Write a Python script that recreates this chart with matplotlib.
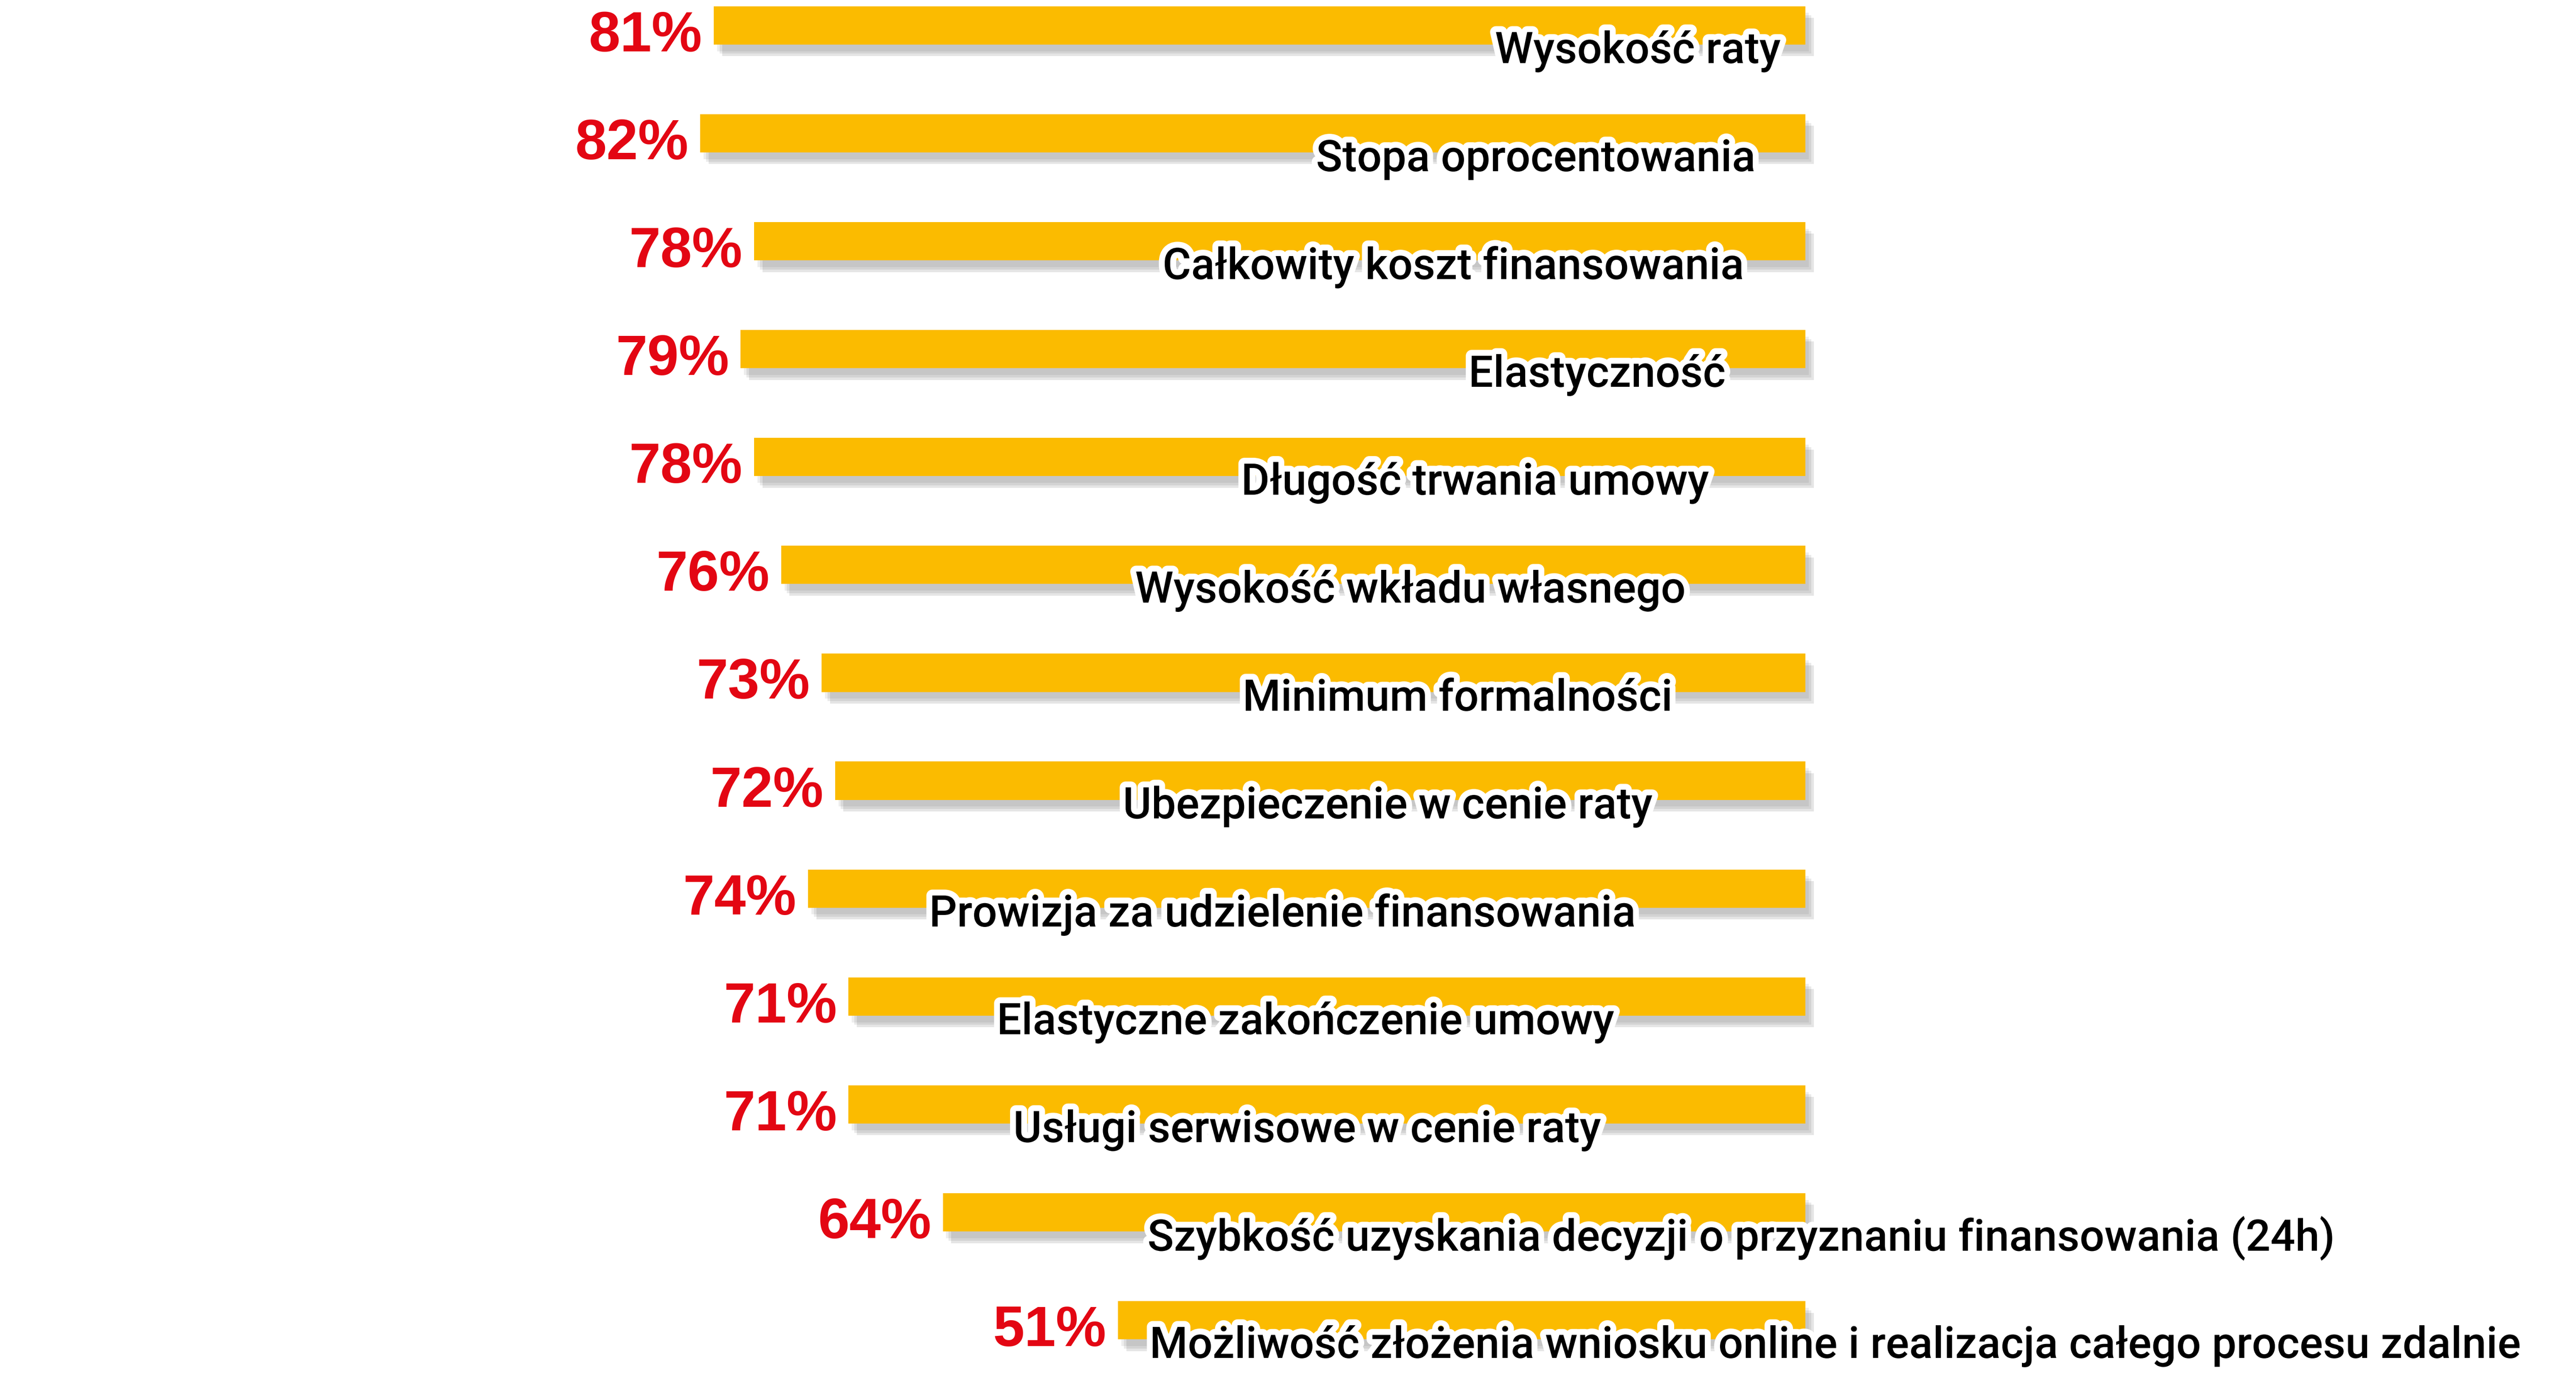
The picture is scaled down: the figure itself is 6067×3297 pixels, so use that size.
import matplotlib
matplotlib.use("Agg")
import matplotlib.pyplot as plt
import matplotlib.patheffects as pe
from matplotlib.patches import Rectangle

categories = ["Wysokość raty", "Stopa oprocentowania", "Całkowity koszt finansowania",
              "Elastyczność", "Długość trwania umowy", "Wysokość wkładu własnego",
              "Minimum formalności", "Ubezpieczenie w cenie raty",
              "Prowizja za udzielenie finansowania", "Elastyczne zakończenie umowy",
              "Usługi serwisowe w cenie raty",
              "Szybkość uzyskania decyzji o przyznaniu finansowania (24h)",
              "Możliwość złożenia wniosku online i realizacja całego procesu zdalnie"]
values = [81, 82, 78, 79, 78, 76, 73, 72, 74, 71, 71, 64, 51]

# layout (display units, image ~1548 x 841)
label_right = [1070, 1055, 1048, 1037, 1027, 1013, 1005, 993, 983, 970, 962, 1403, 1515]
BAR_END = 1085
SCALE = 8.1
ROW = 64.8
BAR_H = 23

fig = plt.figure(figsize=(6067/400, 3298/400), dpi=400)
ax = fig.add_axes([0, 0, 1, 1])
ax.set_xlim(0, 1548)
ax.set_ylim(841, 0)
ax.axis("off")

stroke = [pe.withStroke(linewidth=5, foreground="white")]
for i, (cat, v) in enumerate(zip(categories, values)):
    top = 4 + ROW * i
    start = BAR_END - v * SCALE
    w = BAR_END - start
    for k, a in enumerate([0.10, 0.12, 0.15]):
        off = 2 + k * 1.5
        ax.add_patch(Rectangle((start + off, top + off + 2), w, BAR_H, color="#555555",
                               alpha=a, lw=0, zorder=1))
    ax.add_patch(Rectangle((start, top), w, BAR_H, color="#FBBB00", lw=0, zorder=2))
    ax.text(start - 7, top + 18, f"{v}%", ha="right", va="center", color="#E30613",
            fontsize=24, fontweight="bold", family="Liberation Sans", zorder=3)
    ax.text(label_right[i], top + 27, cat, ha="right", va="center", color="black",
            fontsize=18.5, family="Roboto", fontweight="medium", zorder=4,
            path_effects=stroke)

fig.savefig("out.png", dpi=400, facecolor="white")
